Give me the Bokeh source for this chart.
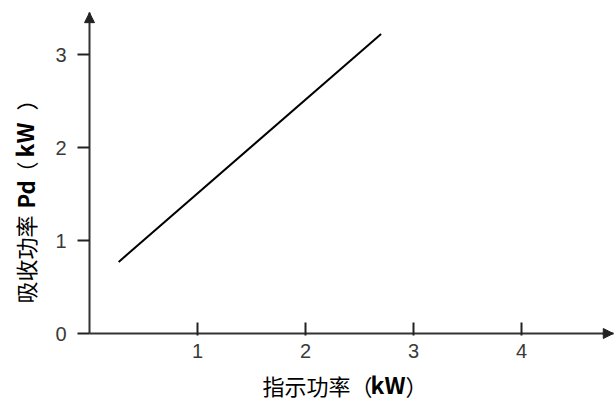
import math
from bokeh.plotting import figure
from bokeh.models import Range1d, FixedTicker, Label, Arrow, NormalHead
from bokeh.embed import file_html
from bokeh.resources import INLINE

# data
line_x = [0.27, 2.70]
line_y = [0.77, 3.22]
x_ticks = [1, 2, 3, 4]
y_ticks = [0, 1, 2, 3]
x_max = 4.85
y_max = 3.45

W, H = 616, 403
# x=0 at 89px, 108 px/unit ; y=0 at 333px, 93 px/unit
x0, xs = 89, 108.0
y0, ys = 333, 93.0
p = figure(width=W, height=H, output_backend="svg", toolbar_location=None,
           x_range=Range1d(-x0 / xs, (W - x0) / xs),
           y_range=Range1d(-(H - y0) / ys, y0 / ys),
           min_border=0)
p.outline_line_color = None
p.xgrid.visible = False
p.ygrid.visible = False
p.background_fill_color = "white"

for ax, bnd in ((p.xaxis[0], (0, x_max)), (p.yaxis[0], (0, y_max))):
    ax.fixed_location = 0
    ax.bounds = bnd
    ax.axis_line_color = "#333333"
    ax.axis_line_width = 2
    ax.major_tick_line_color = "#222222"
    ax.major_tick_line_width = 2
    ax.minor_tick_line_color = None
    ax.major_label_text_font = "Liberation Sans"
    ax.major_label_text_font_size = "20px"
    ax.major_label_text_color = "#3a3a3a"

p.xaxis.ticker = FixedTicker(ticks=x_ticks)
p.yaxis.ticker = FixedTicker(ticks=y_ticks)
p.xaxis.major_tick_in = 11
p.xaxis.major_tick_out = 2
p.xaxis.major_label_standoff = 8
p.yaxis.major_tick_in = 0
p.yaxis.major_tick_out = 12
p.yaxis.major_label_standoff = 11

p.line(line_x, line_y, line_color="black", line_width=2)

p.add_layout(Arrow(end=NormalHead(size=10, fill_color="#222222", line_color="#222222"),
                   x_start=x_max - 0.1, y_start=0, x_end=x_max, y_end=0,
                   line_color="#333333", line_width=2))
p.add_layout(Arrow(end=NormalHead(size=10, fill_color="#222222", line_color="#222222"),
                   x_start=0, y_start=y_max - 0.1, x_end=0, y_end=y_max,
                   line_color="#333333", line_width=2))

font = "Noto Sans CJK SC"
fs = "22px"
# x-axis title (screen coords from bottom-left)
xx, xb = 262, 3
p.add_layout(Label(x=xx, y=xb, x_units="screen", y_units="screen", text="指示功率（",
                   text_font=font, text_font_size=fs, text_color="black"))
p.add_layout(Label(x=xx + 108, y=xb, x_units="screen", y_units="screen", text="kW",
                   text_font=font, text_font_size="23px", text_font_style="bold", text_color="black"))
p.add_layout(Label(x=xx + 143, y=xb, x_units="screen", y_units="screen", text="）",
                   text_font=font, text_font_size=fs, text_color="black"))

# y-axis title (rotated)
yx, yb = 40, 100
p.add_layout(Label(x=yx, y=yb, x_units="screen", y_units="screen", text="吸收功率",
                   angle=math.pi / 2, text_font=font, text_font_size=fs, text_color="black"))
p.add_layout(Label(x=yx, y=yb + 95, x_units="screen", y_units="screen", text="Pd",
                   angle=math.pi / 2, text_font=font, text_font_size=fs, text_font_style="bold", text_color="black"))
p.add_layout(Label(x=yx, y=yb + 120, x_units="screen", y_units="screen", text="（",
                   angle=math.pi / 2, text_font=font, text_font_size=fs, text_color="black"))
p.add_layout(Label(x=yx, y=yb + 146, x_units="screen", y_units="screen", text="kW",
                   angle=math.pi / 2, text_font=font, text_font_size="23px", text_font_style="bold", text_color="black"))
p.add_layout(Label(x=yx, y=yb + 193, x_units="screen", y_units="screen", text="）",
                   angle=math.pi / 2, text_font=font, text_font_size=fs, text_color="black"))

open("out.html", "w").write(file_html(p, INLINE))
